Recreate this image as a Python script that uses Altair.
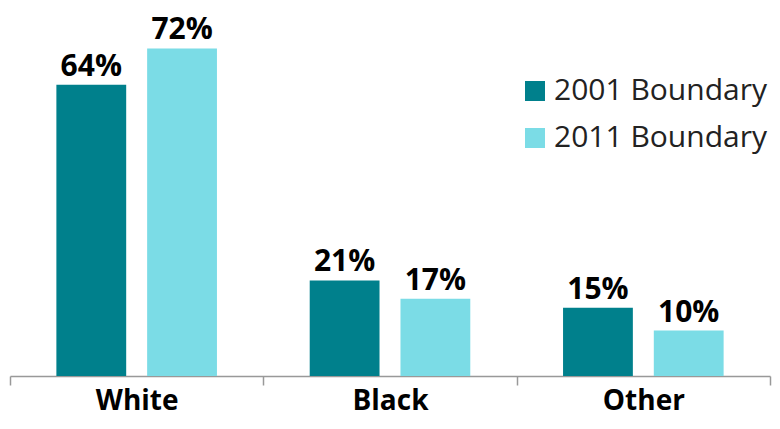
import altair as alt
import pandas as pd

categories = ["White", "Black", "Other"]
series = ["2001 Boundary", "2011 Boundary"]
values_2001 = [64, 21, 15]
values_2011 = [72, 17, 10]

rows = []
for c, a, b in zip(categories, values_2001, values_2011):
    rows.append({"cat": c, "series": series[0], "value": a, "label": f"{a}%"})
    rows.append({"cat": c, "series": series[1], "value": b, "label": f"{b}%"})
df = pd.DataFrame(rows)

FONT = "Open Sans"

x = alt.X("cat:N", sort=categories, title=None,
          scale=alt.Scale(paddingInner=0, paddingOuter=0),
          axis=alt.Axis(labelAngle=0, labelFontSize=28, labelFontWeight="bold",
                        labelColor="#000000", labelFont=FONT, labelPadding=2,
                        domainColor="#999999", domainWidth=1.5,
                        tickColor="#999999", tickWidth=1.5, tickSize=9,
                        tickBand="extent", grid=False))
xo = alt.XOffset("series:N", sort=series,
                 scale=alt.Scale(paddingInner=0.2308, paddingOuter=0.511))
y = alt.Y("value:Q", scale=alt.Scale(domain=[0, 80]), axis=None)

bars = alt.Chart(df).mark_bar().encode(
    x=x, xOffset=xo, y=y,
    color=alt.Color("series:N", sort=series, title=None,
                    scale=alt.Scale(domain=series, range=["#00808C", "#7BDCE6"]),
                    legend=alt.Legend(orient="none", legendX=510, legendY=64,
                                      symbolType="square", symbolSize=400,
                                      symbolStrokeWidth=0, labelFontSize=30,
                                      labelFont=FONT, labelColor="#222222",
                                      labelOffset=4, rowPadding=17, padding=0,
                                      labelLimit=400)),
)

labels = alt.Chart(df).mark_text(baseline="bottom", dy=-3, fontSize=30,
                                 fontWeight="bold", font=FONT, color="#000000").encode(
    x=alt.X("cat:N", sort=categories), xOffset=xo, y=y, text="label:N"
)

chart = (bars + labels).properties(
    width=760, height=364,
    padding={"left": 2, "top": 4, "right": 2, "bottom": 45},
    autosize=alt.AutoSizeParams(type="none"),
).configure(font=FONT).configure_view(stroke=None, strokeWidth=0)

chart.save("out.html", embed_options={"renderer": "svg", "actions": False})
